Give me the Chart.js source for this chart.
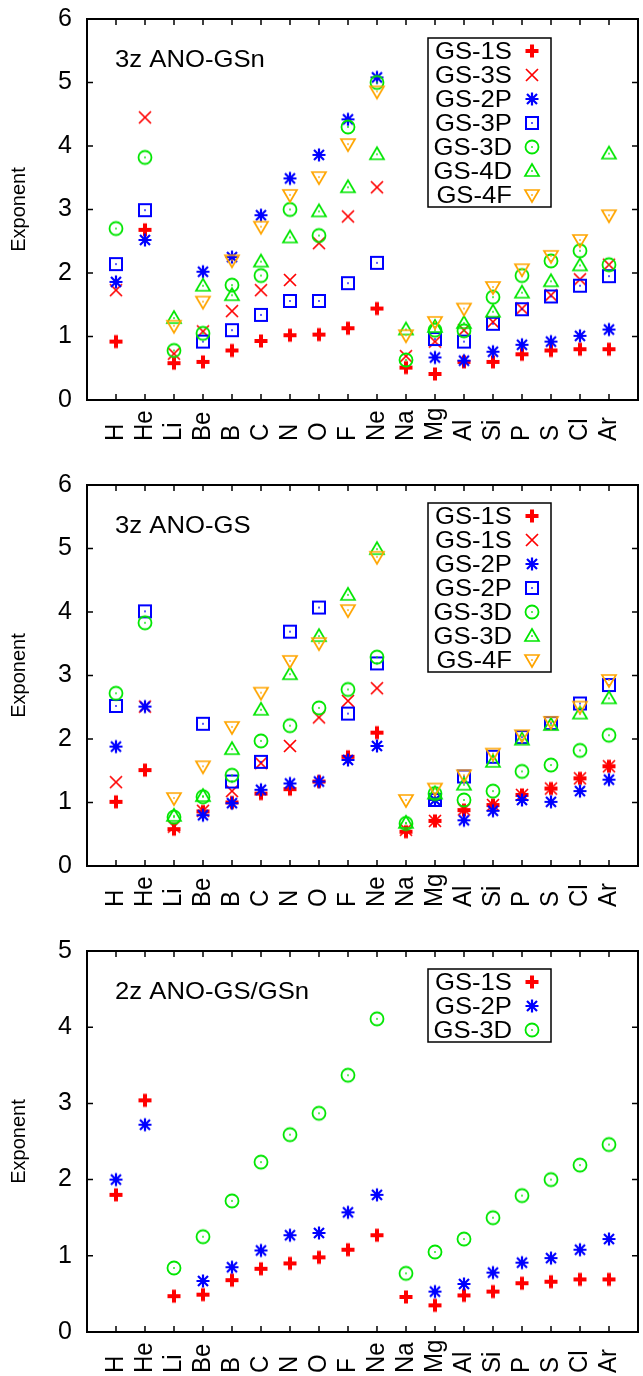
<!DOCTYPE html>
<html>
<head>
<meta charset="utf-8">
<title>ANO-GS exponents</title>
<script src="https://cdn.jsdelivr.net/npm/chart.js@4.4.1/dist/chart.umd.min.js"></script>
<style>
  html, body { margin: 0; padding: 0; background: #fff; overflow: hidden; }
  canvas { position: absolute; left: 0; }
</style>
</head>
<body>
<canvas id="panel1" width="646" height="455" style="top:0px"></canvas>
<canvas id="panel2" width="646" height="455" style="top:455px"></canvas>
<canvas id="panel3" width="646" height="466" style="top:910px"></canvas>
<script>
// categories
var elements = ['H', 'He', 'Li', 'Be', 'B', 'C', 'N', 'O', 'F', 'Ne', 'Na', 'Mg', 'Al', 'Si', 'P', 'S', 'Cl', 'Ar'];

// panel 1: 3z ANO-GSn
var gsn1S = [0.92, 2.68, 0.58, 0.60, 0.78, 0.93, 1.02, 1.03, 1.13, 1.44, 0.51, 0.41, 0.60, 0.60, 0.72, 0.78, 0.80, 0.80];
var gsn3S = [1.73, 4.45, 0.73, 1.08, 1.40, 1.73, 1.89, 2.47, 2.89, 3.35, 0.69, 0.92, 1.10, 1.23, 1.44, 1.65, 1.90, 2.13];
var gsn2P = [1.86, 2.52, null, 2.02, 2.25, 2.91, 3.49, 3.86, 4.42, 5.08, null, 0.67, 0.62, 0.76, 0.87, 0.92, 1.01, 1.11];
var gsn3P = [2.14, 2.99, null, 0.92, 1.10, 1.34, 1.56, 1.56, 1.84, 2.16, null, 0.96, 0.92, 1.20, 1.43, 1.63, 1.80, 1.95];
var gsn3D = [2.70, 3.82, 0.78, 1.05, 1.81, 1.96, 3.00, 2.59, 4.30, 5.00, 0.63, 1.10, 1.09, 1.62, 1.96, 2.19, 2.35, 2.13];
var gsn4D = [null, null, 1.29, 1.80, 1.65, 2.18, 2.56, 2.97, 3.35, 3.87, 1.11, 1.15, 1.21, 1.39, 1.69, 1.87, 2.12, 3.88];
var gsn4F = [null, null, 1.17, 1.55, 2.20, 2.73, 3.23, 3.51, 4.03, 4.86, 1.02, 1.23, 1.44, 1.78, 2.06, 2.27, 2.52, 2.91];

// panel 2: 3z ANO-GS
var gs1Sa = [1.01, 1.51, 0.58, 0.86, 1.00, 1.14, 1.21, 1.33, 1.72, 2.10, 0.54, 0.71, 0.88, 0.96, 1.12, 1.22, 1.38, 1.57];
var gs1Sb = [1.32, 2.51, 0.62, 0.87, 1.18, 1.62, 1.89, 2.34, 2.60, 2.80, 0.57, 0.71, 0.89, 0.96, 1.12, 1.22, 1.38, 1.57];
var gs2Pa = [1.88, 2.51, null, 0.80, 0.99, 1.20, 1.30, 1.33, 1.67, 1.89, null, 1.04, 0.72, 0.87, 1.04, 1.01, 1.18, 1.36];
var gs2Pb = [2.52, 4.01, null, 2.24, 1.33, 1.64, 3.69, 4.07, 2.40, 3.19, null, 1.04, 1.41, 1.72, 2.03, 2.25, 2.56, 2.85];
var gs3Da = [2.72, 3.83, 0.77, 1.09, 1.43, 1.97, 2.21, 2.49, 2.78, 3.29, 0.67, 1.14, 1.04, 1.18, 1.49, 1.59, 1.82, 2.06];
var gs3Db = [null, null, 0.79, 1.10, 1.84, 2.46, 3.02, 3.62, 4.27, 4.99, 0.68, 1.14, 1.28, 1.64, 1.99, 2.22, 2.40, 2.64];
var gs4F = [null, null, 1.07, 1.57, 2.19, 2.73, 3.23, 3.51, 4.03, 4.87, 1.04, 1.22, 1.43, 1.77, 2.06, 2.27, 2.51, 2.93];

// panel 3: 2z ANO-GS/GSn
var gz1S = [1.80, 3.04, 0.47, 0.49, 0.68, 0.83, 0.90, 0.98, 1.08, 1.27, 0.46, 0.35, 0.48, 0.53, 0.64, 0.66, 0.69, 0.69];
var gz2P = [2.00, 2.72, null, 0.67, 0.85, 1.07, 1.27, 1.30, 1.57, 1.80, null, 0.53, 0.63, 0.78, 0.91, 0.97, 1.08, 1.22];
var gz3D = [null, null, 0.84, 1.25, 1.72, 2.23, 2.59, 2.87, 3.37, 4.11, 0.77, 1.05, 1.22, 1.50, 1.79, 2.00, 2.19, 2.46];

var RED = '#ff0000', BLUE = '#0000ff', GREEN = '#00e600', ORANGE = '#ffa500';
var FONT = '"Liberation Sans", Arial, sans-serif';
var STRETCH = 1.07; // the source picture's text is a bit wider than tall

Chart.defaults.font.family = FONT;
Chart.defaults.font.size = 24;
Chart.defaults.color = '#000';

// gnuplot-like point symbols, drawn once on small canvases
function marker(kind, color) {
    var c = document.createElement('canvas');
    c.width = 20;
    c.height = 20;
    var g = c.getContext('2d');
    g.translate(10, 10);
    g.strokeStyle = color;
    g.fillStyle = color;
    g.beginPath();
    if (kind === 'plus') {
        g.lineWidth = 4;
        g.moveTo(-6.5, 0); g.lineTo(6.5, 0);
        g.moveTo(0, -6.5); g.lineTo(0, 6.5);
        g.stroke();
        return c;
    }
    if (kind === 'cross') {
        g.lineWidth = 1.7;
        g.moveTo(-6, -6); g.lineTo(6, 6);
        g.moveTo(-6, 6); g.lineTo(6, -6);
        g.stroke();
        return c;
    }
    if (kind === 'star') {
        g.lineWidth = 2.2;
        g.moveTo(-6.5, 0); g.lineTo(6.5, 0);
        g.moveTo(0, -6.5); g.lineTo(0, 6.5);
        g.moveTo(-5, -5); g.lineTo(5, 5);
        g.moveTo(-5, 5); g.lineTo(5, -5);
        g.stroke();
        return c;
    }
    if (kind === 'square') {
        g.lineWidth = 2;
        g.rect(-6, -6, 12, 12);
    } else if (kind === 'circle') {
        g.lineWidth = 1.8;
        g.arc(0, 0, 6.5, 0, Math.PI * 2);
    } else if (kind === 'up') {
        g.lineWidth = 1.7;
        g.moveTo(0, -7); g.lineTo(7, 5); g.lineTo(-7, 5); g.closePath();
    } else if (kind === 'down') {
        g.lineWidth = 1.7;
        g.moveTo(0, 7); g.lineTo(7, -5); g.lineTo(-7, -5); g.closePath();
    }
    g.stroke();
    g.fillRect(-0.8, -0.8, 1.6, 1.6);
    return c;
}

function series(label, values, style, n) {
    return {
        label: label,
        data: values.map(function (v, i) { return {x: i + 1, y: v}; }),
        pointStyle: style,
        pointRadius: 7,
        showLine: false,
        order: 10 - n
    };
}

function wideText(ctx, text, x, y) {
    ctx.save();
    ctx.translate(x, y);
    ctx.scale(STRETCH, 1);
    ctx.fillText(text, 0, 0);
    ctx.restore();
}

// frame with inward ticks, rotated element names, inner title and boxed key
var gnuFrame = {
    id: 'gnuFrame',
    afterDraw: function (chart, args, o) {
        var ctx = chart.ctx, a = chart.chartArea;
        var xs = chart.scales.x, ys = chart.scales.y;
        ctx.save();
        ctx.strokeStyle = '#000';
        ctx.lineWidth = 2;
        ctx.strokeRect(a.left, a.top, a.right - a.left, a.bottom - a.top);
        ctx.lineWidth = 1.5;
        ctx.beginPath();
        xs.ticks.forEach(function (t) {
            if (t.value < 1 || t.value > elements.length) return;
            var px = xs.getPixelForValue(t.value);
            ctx.moveTo(px, a.bottom); ctx.lineTo(px, a.bottom - 6);
            ctx.moveTo(px, a.top); ctx.lineTo(px, a.top + 6);
        });
        ys.ticks.forEach(function (t) {
            var py = ys.getPixelForValue(t.value);
            ctx.moveTo(a.left, py); ctx.lineTo(a.left + 6, py);
            ctx.moveTo(a.right, py); ctx.lineTo(a.right - 6, py);
        });
        ctx.stroke();

        ctx.fillStyle = '#000';
        ctx.font = '24px ' + FONT;
        ctx.textAlign = 'left';
        ctx.textBaseline = 'middle';
        xs.ticks.forEach(function (t) {
            var name = elements[t.value - 1];
            if (!name) return;
            ctx.save();
            ctx.translate(xs.getPixelForValue(t.value), a.bottom + 41);
            ctx.scale(STRETCH, 1);
            ctx.rotate(-Math.PI / 2);
            ctx.fillText(name, 0, 0);
            ctx.restore();
        });

        ctx.textBaseline = 'alphabetic';
        wideText(ctx, o.title, a.left + 28, a.top + 48);

        var sets = chart.data.datasets;
        var bx = a.left + 341, by = a.top + o.keyTop;
        ctx.lineWidth = 1.5;
        ctx.strokeRect(bx, by, 123, sets.length * 24 + 1);
        ctx.textAlign = 'right';
        ctx.textBaseline = 'middle';
        sets.forEach(function (ds, i) {
            var cy = by + 13 + i * 24;
            wideText(ctx, ds.label, bx + 84, cy + 1);
            ctx.drawImage(ds.pointStyle, bx + 104 - 10, cy - 10);
        });
        ctx.restore();
    }
};

function makePanel(id, datasets, yMax, padTop, xHeight, title, keyTop) {
    var ctx = document.getElementById(id).getContext('2d');
    return new Chart(ctx, {
        type: 'scatter',
        data: {datasets: datasets},
        options: {
            responsive: false,
            animation: false,
            events: [],
            layout: {padding: {top: padTop, right: 2, left: 0, bottom: 0}},
            scales: {
                x: {
                    type: 'linear', min: 0, max: elements.length + 1,
                    grid: {display: false, drawTicks: false},
                    border: {display: false},
                    ticks: {display: false, stepSize: 1, autoSkip: false},
                    afterFit: function (s) { s.height = xHeight; s.paddingLeft = 0; s.paddingRight = 0; }
                },
                y: {
                    min: 0, max: yMax,
                    grid: {display: false, drawTicks: false},
                    border: {display: false},
                    ticks: {stepSize: 1, padding: 15, font: {size: 25}},
                    title: {display: true, text: 'Exponent', font: {size: 20}, padding: {top: 7, bottom: 0}},
                    afterFit: function (s) { s.width = 87; s.paddingTop = 0; s.paddingBottom = 0; }
                }
            },
            plugins: {
                legend: {display: false},
                tooltip: {enabled: false},
                gnuFrame: {title: title, keyTop: keyTop}
            }
        },
        plugins: [gnuFrame]
    });
}

makePanel('panel1', [
    series('GS-1S', gsn1S, marker('plus', RED), 0),
    series('GS-3S', gsn3S, marker('cross', RED), 1),
    series('GS-2P', gsn2P, marker('star', BLUE), 2),
    series('GS-3P', gsn3P, marker('square', BLUE), 3),
    series('GS-3D', gsn3D, marker('circle', GREEN), 4),
    series('GS-4D', gsn4D, marker('up', GREEN), 5),
    series('GS-4F', gsn4F, marker('down', ORANGE), 6)
], 6, 19, 55, '3z ANO-GSn', 19);

makePanel('panel2', [
    series('GS-1S', gs1Sa, marker('plus', RED), 0),
    series('GS-1S', gs1Sb, marker('cross', RED), 1),
    series('GS-2P', gs2Pa, marker('star', BLUE), 2),
    series('GS-2P', gs2Pb, marker('square', BLUE), 3),
    series('GS-3D', gs3Da, marker('circle', GREEN), 4),
    series('GS-3D', gs3Db, marker('up', GREEN), 5),
    series('GS-4F', gs4F, marker('down', ORANGE), 6)
], 6, 30, 44, '3z ANO-GS', 18);

makePanel('panel3', [
    series('GS-1S', gz1S, marker('plus', RED), 0),
    series('GS-2P', gz2P, marker('star', BLUE), 1),
    series('GS-3D', gz3D, marker('circle', GREEN), 2)
], 5, 41, 44, '2z ANO-GS/GSn', 18);
</script>
</body>
</html>
